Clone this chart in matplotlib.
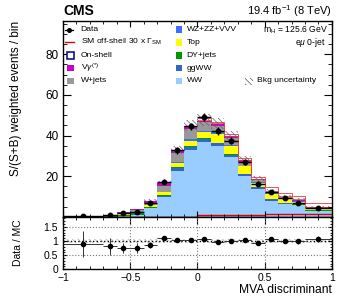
import numpy as np
import matplotlib
matplotlib.use('Agg')
import matplotlib.pyplot as plt
from matplotlib.patches import Rectangle
from matplotlib.lines import Line2D
from matplotlib.ticker import MultipleLocator

plt.rcParams['font.family'] = ['Liberation Sans', 'DejaVu Sans']
plt.rcParams['hatch.linewidth'] = 0.5
plt.rcParams['mathtext.fontset'] = 'custom'
plt.rcParams['mathtext.rm'] = 'Liberation Sans'
plt.rcParams['mathtext.it'] = 'Liberation Sans:italic'

# ---------------- data ----------------
edges = [-1.0, -0.7, -0.6, -0.5, -0.4, -0.3, -0.2, -0.1, 0.0, 0.1, 0.2,
         0.3, 0.4, 0.5, 0.6, 0.7, 0.8, 1.0]
WW      = [0.1, 0.2, 0.4, 0.9, 4.3, 10.0, 22.8, 33.1, 36.9, 34.7, 29.3, 20.0, 13.8, 8.1, 6.6, 5.8, 2.9]
ggWW    = [0.0, 0.0, 0.1, 0.2, 0.3, 0.5, 1.1, 1.5, 1.4, 1.6, 1.4, 1.1, 0.8, 0.6, 0.4, 0.3, 0.2]
DY      = [0.1, 0.2, 0.6, 0.8, 0.3, 0.2, 0.5, 0.4, 0.6, 0.3, 0.3, 0.2, 0.2, 0.1, 0.1, 0.1, 0.1]
Top     = [0.0, 0.1, 0.4, 0.6, 1.0, 1.5, 2.2, 2.6, 3.1, 4.2, 3.7, 3.6, 2.0, 2.6, 1.8, 1.4, 1.0]
WZ      = [0.0, 0.0, 0.1, 0.1, 0.2, 0.3, 0.4, 0.7, 0.5, 1.0, 0.6, 0.4, 0.3, 0.2, 0.2, 0.2, 0.1]
Wjets   = [0.1, 0.3, 0.5, 0.6, 1.0, 2.8, 4.5, 4.9, 4.1, 2.7, 3.5, 1.6, 0.9, 0.6, 0.5, 0.3, 0.2]
Vg      = [0.1, 0.3, 0.4, 0.5, 1.0, 1.2, 1.3, 1.3, 0.8, 1.2, 0.8, 0.9, 0.5, 0.3, 0.3, 0.2, 0.2]
Onshell = [0.0, 0.0, 0.0, 0.0, 0.1, 0.3, 0.3, 0.3, 0.3, 0.3, 0.3, 0.3, 0.3, 0.3, 0.3, 0.3, 0.3]
Offshell = [0.2, 0.2, 0.2, 0.2, 0.2, 0.2, 0.2, 0.2, 0.9, 0.9, 0.9, 0.9, 0.9, 1.7, 1.7, 1.7, 1.7]
Data     = [0.35, 0.9, 1.9, 2.6, 6.8, 17.3, 32.7, 44.5, 49.1, 42.1, 37.6, 27.2, 16.4, 12.3, 9.4, 7.1, 4.3]
Data_err = [0.3, 0.4, 0.4, 0.5, 0.7, 1.2, 1.6, 1.9, 2.0, 1.9, 1.8, 1.5, 1.2, 1.0, 0.9, 0.8, 0.6]
Ratio     = [0.90, 0.82, 0.74, 0.74, 0.86, 1.11, 1.04, 1.04, 1.06, 0.96, 1.01, 1.02, 0.93, 1.08, 1.01, 0.99, 1.06]
Ratio_err = [0.47, 0.30, 0.18, 0.18, 0.09, 0.05, 0.04, 0.04, 0.04, 0.04, 0.04, 0.04, 0.05, 0.06, 0.07, 0.08, 0.10]
bkg_rel_unc = 0.06

names  = ['WW', 'ggWW', 'DY+jets', 'Top', 'WZ+ZZ+VVV', 'W+jets', r'V$\gamma^{(*)}$']
colors = ['#99ccff', '#3366cc', '#009900', '#ffff00', '#3d6cff', '#999999', '#cc00cc']
layers = [WW, ggWW, DY, Top, WZ, Wjets, Vg]

edges_a = np.array(edges)
centers = 0.5 * (edges_a[1:] + edges_a[:-1])
halfw = 0.5 * (edges_a[1:] - edges_a[:-1])

W, H = 349.0, 302.0
fig = plt.figure(figsize=(3.49, 3.02), dpi=100)
ax = fig.add_axes([0.1805, 0.2815, 0.7705, 0.650])
rx = fig.add_axes([0.1805, 0.1083, 0.7705, 0.1732])

base = np.zeros(len(WW))
for vals, c in zip(layers, colors):
    v = np.array(vals)
    ax.stairs(base + v, edges_a, baseline=base.copy(), fill=True, color=c, lw=0)
    base = base + v
ax.stairs(base + np.array(Onshell), edges_a, baseline=base.copy(), fill=True,
          facecolor='#fbe8ee', edgecolor='none', lw=0)
total = base + np.array(Onshell)

# stacked off-shell on top (right part)
ax.stairs((total + np.array(Offshell))[8:], edges_a[8:], baseline=None,
          color='#f03838', lw=0.6)
ax.stairs(total[8:], edges_a[8:], baseline=None, color='#f03838', lw=0.5)

# uncertainty hatch
unc = total * bkg_rel_unc
ax.stairs(total + unc, edges_a, baseline=total - unc, fill=True, facecolor='none',
          edgecolor='#666666', hatch='\\\\\\\\\\\\', lw=0)

# off-shell line at bottom
ax.stairs(Offshell, edges_a, baseline=None, color='#e00000', lw=1.0)

ax.errorbar(centers, Data, xerr=halfw, yerr=Data_err, fmt='o', color='black',
            ms=3.2, elinewidth=1.0, capsize=0, zorder=10)

ax.set_xlim(-1, 1)
ax.set_ylim(0, 96.5)
ax.xaxis.set_major_locator(MultipleLocator(0.5))
ax.xaxis.set_minor_locator(MultipleLocator(0.1))
ax.yaxis.set_minor_locator(MultipleLocator(5))
ax.set_yticks([20, 40, 60, 80])
ax.tick_params(axis='both', which='both', direction='in', top=True, right=True, labelsize=8.5)
ax.tick_params(axis='x', which='major', length=4, labelbottom=False)
ax.tick_params(axis='x', which='minor', length=2)
ax.tick_params(axis='y', which='major', length=6, width=0.8, pad=3)
ax.tick_params(axis='y', which='minor', length=3)

# ratio
rx.stairs(1 + np.full(len(WW), bkg_rel_unc), edges_a, baseline=1 - np.full(len(WW), bkg_rel_unc),
          fill=True, facecolor='none', edgecolor='#aaaaaa', hatch='\\\\\\\\\\\\', lw=0)
for yv in [0.5, 1.5]:
    rx.axhline(yv, color='#777777', ls=':', lw=0.8)
rx.axhline(1.0, color='black', ls=':', lw=1.0)
for xv in [-0.5, 0, 0.5]:
    rx.axvline(xv, color='#777777', ls=':', lw=0.8)
rx.errorbar(centers, Ratio, xerr=halfw, yerr=Ratio_err, fmt='o', color='black',
            ms=3.0, elinewidth=0.7, ecolor='#333333', capsize=0, zorder=10)
rx.set_xlim(-1, 1)
rx.set_ylim(0, 1.85)
rx.set_yticks([0, 0.5, 1, 1.5])
rx.set_yticklabels(['0', '0.5', '1', '1.5'])
rx.set_xticks([-1, -0.5, 0, 0.5, 1])
rx.set_xticklabels(['\u22121', '\u22120.5', '0', '0.5', '1'])
rx.xaxis.set_minor_locator(MultipleLocator(0.1))
rx.yaxis.set_minor_locator(MultipleLocator(0.1))
rx.tick_params(axis='both', which='both', direction='in', top=True, right=True, labelsize=7.5)
rx.tick_params(axis='x', which='major', length=5, pad=3)
rx.tick_params(axis='x', which='minor', length=2.5)
rx.tick_params(axis='y', which='major', length=3)
rx.tick_params(axis='y', which='minor', length=1.5)

for a in (ax, rx):
    for s in a.spines.values():
        s.set_linewidth(1.0)

# texts
fig.text(0.181, 0.963, 'CMS', fontsize=10, fontweight='bold', ha='left', va='center')
fig.text(0.951, 0.963, '19.4 fb$^{-1}$ (8 TeV)', fontsize=8, ha='right', va='center')
fig.text(0.045, 0.9315, 'S/(S+B) weighted events / bin', rotation=90, fontsize=8.5,
         ha='center', va='top')
fig.text(0.052, 0.195, 'Data / MC', rotation=90, fontsize=7.5, ha='center', va='center')
fig.text(0.951, 0.040, 'MVA discriminant', fontsize=8.7, ha='right', va='center')

fig.text(328 / W, 1 - 30 / H, r'm$_{\rm H}$ = 125.6 GeV', fontsize=6.2, ha='right', va='center')
fig.text(326 / W, 1 - 42.5 / H, r'e$\mu$ 0-jet', fontsize=6.2, ha='right', va='center')

# manual legend (pixel layout)
FS = 6.1
rows = [29.5, 42.3, 55.2, 68.1, 81.0]
def fx(px):
    return px / W
def fy(py):
    return 1 - py / H

def box(x0, yc, fc, ec='none', lw=0.0, hatch=None):
    fig.patches.append(Rectangle((fx(x0), fy(yc + 3.4)), 6.6 / W, 6.8 / H,
                                 transform=fig.transFigure, facecolor=fc,
                                 edgecolor=ec, lw=lw, hatch=hatch))

# column 1
fig.lines.append(Line2D([fx(65), fx(73)], [fy(rows[0])] * 2, transform=fig.transFigure,
                        color='black', lw=0.9))
fig.lines.append(Line2D([fx(69)], [fy(rows[0])], transform=fig.transFigure,
                        color='black', marker='o', ms=2.6, lw=0))
fig.lines.append(Line2D([fx(65), fx(73.5)], [fy(rows[1])] * 2, transform=fig.transFigure,
                        color='#e00000', lw=1.0))
box(67.3, rows[2], 'white', '#000080', 1.1)
box(67.3, rows[3], colors[6])
box(67.3, rows[4], colors[5])
labels1 = ['Data', r'SM off-shell 30 x $\Gamma_{\rm SM}$', 'On-shell', names[6], names[5]]
for lab, r in zip(labels1, rows):
    fig.text(fx(80.7), fy(r), lab, fontsize=FS, ha='left', va='center')

# column 2
order2 = [4, 3, 2, 1, 0]
for i, r in zip(order2, rows):
    box(175.7, r, colors[i])
    fig.text(fx(186.7), fy(r), names[i], fontsize=FS, ha='left', va='center')

# bkg uncertainty
fig.patches.append(Rectangle((fx(245), fy(85)), 8 / W, 7 / H, transform=fig.transFigure,
                             facecolor='none', edgecolor='#555555', hatch='\\\\\\\\\\\\', lw=0))
fig.text(fx(257), fy(81), 'Bkg uncertainty', fontsize=FS, ha='left', va='center')

fig.savefig('out.png', dpi=100)
